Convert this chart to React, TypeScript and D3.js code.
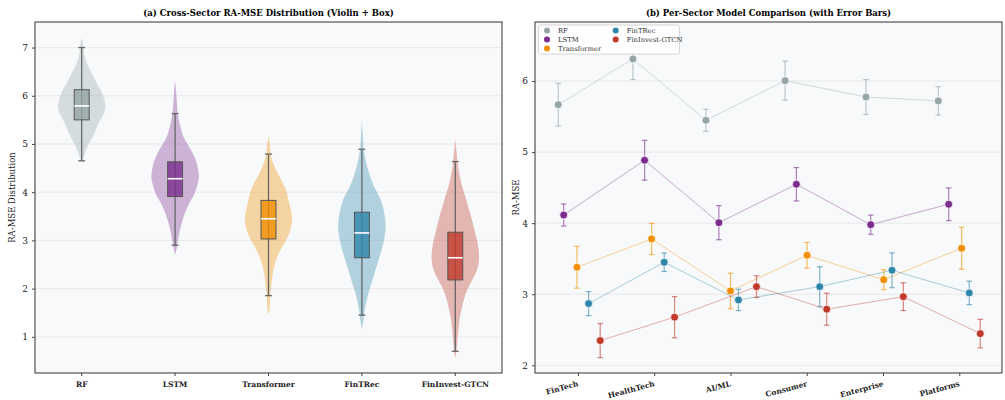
import React, { useRef, useEffect } from 'react';
import * as d3 from 'd3';

// models and colours
const models = ['RF', 'LSTM', 'Transformer', 'FinTRec', 'FinInvest-GTCN'];
const modelColors = ['#95A5A6', '#7B2D8E', '#F18F01', '#2E86AB', '#C0392B'];

// panel (a) box stats
const whiskerLow = [4.65, 2.9, 1.855, 1.45, 0.7];
const q1 = [5.5, 3.91, 3.03, 2.64, 2.18];
const medians = [5.79, 4.28, 3.45, 3.155, 2.64];
const q3 = [6.125, 4.63, 3.83, 3.585, 3.17];
const whiskerHigh = [7.0, 5.63, 4.79, 4.89, 4.635];

// violin outlines: [value, relative half width]
const rfViolin = [
  [4.62, 0], [4.75, 0.1], [4.9, 0.2], [5.05, 0.36], [5.25, 0.56], [5.4, 0.68], [5.6, 0.9],
  [5.75, 1.0], [5.9, 0.96], [6.08, 0.84], [6.25, 0.64], [6.43, 0.46], [6.6, 0.28], [6.78, 0.14],
  [6.95, 0.08], [7.1, 0.05], [7.2, 0],
];
const lstmViolin = [
  [2.7, 0], [2.87, 0.08], [3.08, 0.15], [3.25, 0.22], [3.43, 0.32], [3.6, 0.44], [3.77, 0.6],
  [3.95, 0.8], [4.12, 0.92], [4.3, 1.0], [4.46, 0.97], [4.62, 0.9], [4.81, 0.74], [5.0, 0.52],
  [5.15, 0.35], [5.33, 0.24], [5.5, 0.16], [5.7, 0.1], [5.9, 0.07], [6.1, 0.04], [6.31, 0],
];
const transformerViolin = [
  [1.45, 0], [1.6, 0.05], [1.8, 0.07], [2.0, 0.1], [2.2, 0.15], [2.42, 0.22], [2.6, 0.33],
  [2.77, 0.47], [2.95, 0.68], [3.11, 0.85], [3.3, 0.96], [3.45, 1.0], [3.6, 0.96], [3.8, 0.86],
  [4.0, 0.77], [4.18, 0.62], [4.36, 0.42], [4.55, 0.24], [4.72, 0.12], [4.9, 0.07], [5.05, 0.04], [5.17, 0],
];
const fintrecViolin = [
  [1.17, 0], [1.3, 0.05], [1.45, 0.09], [1.62, 0.14], [1.8, 0.22], [1.98, 0.32], [2.15, 0.43],
  [2.32, 0.53], [2.49, 0.64], [2.67, 0.75], [2.84, 0.85], [3.05, 0.95], [3.25, 1.0], [3.4, 0.99],
  [3.55, 0.95], [3.72, 0.87], [3.88, 0.76], [4.05, 0.58], [4.22, 0.42], [4.4, 0.3], [4.57, 0.2],
  [4.75, 0.12], [4.92, 0.07], [5.15, 0.04], [5.48, 0],
];
const fininvestViolin = [
  [0.56, 0], [0.7, 0.05], [0.93, 0.09], [1.1, 0.12], [1.28, 0.16], [1.45, 0.21], [1.63, 0.29],
  [1.8, 0.38], [1.97, 0.5], [2.15, 0.68], [2.32, 0.86], [2.47, 0.96], [2.62, 1.0], [2.8, 0.98],
  [2.97, 0.93], [3.15, 0.84], [3.35, 0.74], [3.56, 0.63], [3.74, 0.52], [3.91, 0.42], [4.08, 0.31],
  [4.26, 0.22], [4.43, 0.15], [4.6, 0.1], [4.8, 0.06], [5.1, 0],
];
const violins = [rfViolin, lstmViolin, transformerViolin, fintrecViolin, fininvestViolin];

// panel (b) per-sector means, error half widths, x jitter
const sectors = ['FinTech', 'HealthTech', 'AI/ML', 'Consumer', 'Enterprise', 'Platforms'];
const rfMeans = [5.667, 6.31, 5.447, 6.005, 5.775, 5.72];
const lstmMeans = [4.115, 4.885, 4.007, 4.547, 3.979, 4.266];
const transformerMeans = [3.38, 3.778, 3.046, 3.548, 3.205, 3.647];
const fintrecMeans = [2.868, 3.45, 2.92, 3.107, 3.337, 3.018];
const fininvestMeans = [2.348, 2.677, 3.107, 2.789, 2.966, 2.446];
const rfErr = [0.3, 0.29, 0.155, 0.275, 0.245, 0.2];
const lstmErr = [0.155, 0.28, 0.24, 0.235, 0.135, 0.23];
const transformerErr = [0.295, 0.22, 0.25, 0.18, 0.14, 0.295];
const fintrecErr = [0.17, 0.13, 0.15, 0.28, 0.245, 0.165];
const fininvestErr = [0.24, 0.29, 0.153, 0.225, 0.195, 0.2];
const rfOffset = [-0.258, -0.279, -0.322, -0.284, -0.223, -0.275];
const lstmOffset = [-0.187, -0.126, -0.152, -0.136, -0.161, -0.139];
const transformerOffset = [-0.013, -0.034, 0, 0.004, 0.009, 0.031];
const fintrecOffset = [0.14, 0.131, 0.105, 0.17, 0.118, 0.131];
const fininvestOffset = [0.292, 0.267, 0.341, 0.262, 0.266, 0.275];
const sectorMeans = [rfMeans, lstmMeans, transformerMeans, fintrecMeans, fininvestMeans];
const sectorErrs = [rfErr, lstmErr, transformerErr, fintrecErr, fininvestErr];
const sectorOffsets = [rfOffset, lstmOffset, transformerOffset, fintrecOffset, fininvestOffset];

const leftTicks = [1, 2, 3, 4, 5, 6, 7];
const rightTicks = [2, 3, 4, 5, 6];

const FONT = '"DejaVu Serif", serif';

const App = () => {
  const ref = useRef(null);

  useEffect(() => {
    const svg = d3.select(ref.current);
    svg.selectAll('*').remove();

    const top = 22;
    const bottom = 373;

    // ---------- panel (a) ----------
    const a = { left: 35, right: 502 };
    const xA = d3.scaleBand().domain(models).range([a.left, a.right]).padding(0);
    const yA = d3.scaleLinear().domain([0.25, 7.53]).range([bottom, top]);
    const cx = (m) => xA(m) + xA.bandwidth() / 2;

    const gA = svg.append('g');
    gA.append('rect')
      .attr('x', a.left).attr('y', top)
      .attr('width', a.right - a.left).attr('height', bottom - top)
      .attr('fill', '#f8f9fa');

    gA.selectAll('.grid')
      .data(leftTicks)
      .enter()
      .append('line')
      .attr('x1', a.left).attr('x2', a.right)
      .attr('y1', (d) => yA(d)).attr('y2', (d) => yA(d))
      .attr('stroke', '#e6e7e9').attr('stroke-width', 0.9);

    const half = xA.bandwidth() * 0.254;
    models.forEach((m, i) => {
      const area = d3.area()
        .y((d) => yA(d[0]))
        .x0((d) => cx(m) - d[1] * half)
        .x1((d) => cx(m) + d[1] * half)
        .curve(d3.curveCatmullRom);
      gA.append('path')
        .attr('d', area(violins[i]))
        .attr('fill', modelColors[i])
        .attr('fill-opacity', 0.35);
    });

    const boxHalf = xA.bandwidth() * 0.08;
    const capHalf = 3.4;
    models.forEach((m, i) => {
      const x = cx(m);
      const g = gA.append('g');
      g.append('line')
        .attr('x1', x).attr('x2', x)
        .attr('y1', yA(whiskerLow[i])).attr('y2', yA(whiskerHigh[i]))
        .attr('stroke', '#666').attr('stroke-width', 1.3);
      [whiskerLow[i], whiskerHigh[i]].forEach((v) => {
        g.append('line')
          .attr('x1', x - capHalf).attr('x2', x + capHalf)
          .attr('y1', yA(v)).attr('y2', yA(v))
          .attr('stroke', '#666').attr('stroke-width', 1.3);
      });
      g.append('rect')
        .attr('x', x - boxHalf).attr('y', yA(q3[i]))
        .attr('width', boxHalf * 2).attr('height', yA(q1[i]) - yA(q3[i]))
        .attr('fill', modelColors[i]).attr('fill-opacity', 0.8)
        .attr('stroke', '#555').attr('stroke-width', 1);
      g.append('line')
        .attr('x1', x - boxHalf).attr('x2', x + boxHalf)
        .attr('y1', yA(medians[i])).attr('y2', yA(medians[i]))
        .attr('stroke', '#fff').attr('stroke-width', 1.6);
    });

    gA.append('rect')
      .attr('x', a.left).attr('y', top)
      .attr('width', a.right - a.left).attr('height', bottom - top)
      .attr('fill', 'none').attr('stroke', '#444').attr('stroke-width', 1.1);

    const axisA = gA.append('g').attr('transform', `translate(${a.left},0)`)
      .call(d3.axisLeft(yA).tickValues(leftTicks).tickFormat(d3.format('d')).tickSize(3).tickPadding(4));
    const axisAx = gA.append('g').attr('transform', `translate(0,${bottom})`)
      .call(d3.axisBottom(xA).tickSize(3).tickPadding(6));
    [axisA, axisAx].forEach((ax) => {
      ax.select('.domain').remove();
      ax.selectAll('line').attr('stroke', '#444');
      ax.selectAll('text').attr('font-family', FONT).attr('fill', '#222');
    });
    axisA.selectAll('text').attr('font-size', 9);
    axisAx.selectAll('text').attr('font-size', 7.5).attr('font-weight', 'bold');

    gA.append('text')
      .attr('transform', `translate(15,${(top + bottom) / 2}) rotate(-90)`)
      .attr('text-anchor', 'middle')
      .attr('font-family', FONT).attr('font-size', 8.5).attr('fill', '#222')
      .text('RA-MSE Distribution');
    gA.append('text')
      .attr('x', (a.left + a.right) / 2).attr('y', 16)
      .attr('text-anchor', 'middle')
      .attr('font-family', FONT).attr('font-size', 8.5).attr('font-weight', 'bold')
      .text('(a) Cross-Sector RA-MSE Distribution (Violin + Box)');

    // ---------- panel (b) ----------
    const b = { left: 535, right: 1002 };
    const xB = d3.scaleLinear().domain([-0.563, 5.56]).range([b.left, b.right]);
    const yB = d3.scaleLinear().domain([1.892, 6.83]).range([bottom, top]);

    const gB = svg.append('g');
    gB.append('rect')
      .attr('x', b.left).attr('y', top)
      .attr('width', b.right - b.left).attr('height', bottom - top)
      .attr('fill', '#f8f9fa');
    gB.selectAll('.grid')
      .data(rightTicks)
      .enter()
      .append('line')
      .attr('x1', b.left).attr('x2', b.right)
      .attr('y1', (d) => yB(d)).attr('y2', (d) => yB(d))
      .attr('stroke', '#e6e7e9').attr('stroke-width', 0.9);

    models.forEach((m, i) => {
      const pts = sectors.map((s, j) => ({
        x: xB(j + sectorOffsets[i][j]),
        v: sectorMeans[i][j],
        e: sectorErrs[i][j],
      }));
      const line = d3.line().x((d) => d.x).y((d) => yB(d.v));
      gB.append('path')
        .attr('d', line(pts))
        .attr('fill', 'none')
        .attr('stroke', modelColors[i]).attr('stroke-opacity', 0.4)
        .attr('stroke-width', 1);
      const eg = gB.append('g')
        .attr('stroke', modelColors[i]).attr('stroke-opacity', 0.6)
        .attr('stroke-width', 1.2);
      pts.forEach((p) => {
        eg.append('line')
          .attr('x1', p.x).attr('x2', p.x)
          .attr('y1', yB(p.v - p.e)).attr('y2', yB(p.v + p.e));
        [p.v - p.e, p.v + p.e].forEach((v) => {
          eg.append('line')
            .attr('x1', p.x - 2.8).attr('x2', p.x + 2.8)
            .attr('y1', yB(v)).attr('y2', yB(v));
        });
      });
      gB.append('g').selectAll('circle')
        .data(pts)
        .enter()
        .append('circle')
        .attr('cx', (d) => d.x).attr('cy', (d) => yB(d.v))
        .attr('r', 4)
        .attr('fill', modelColors[i])
        .attr('stroke', '#fff').attr('stroke-width', 0.8);
    });

    gB.append('rect')
      .attr('x', b.left).attr('y', top)
      .attr('width', b.right - b.left).attr('height', bottom - top)
      .attr('fill', 'none').attr('stroke', '#444').attr('stroke-width', 1.1);

    const axisB = gB.append('g').attr('transform', `translate(${b.left},0)`)
      .call(d3.axisLeft(yB).tickValues(rightTicks).tickFormat(d3.format('d')).tickSize(3).tickPadding(4));
    const axisBx = gB.append('g').attr('transform', `translate(0,${bottom})`)
      .call(d3.axisBottom(xB).tickValues(d3.range(sectors.length))
        .tickFormat((d) => sectors[d]).tickSize(3).tickPadding(5));
    [axisB, axisBx].forEach((ax) => {
      ax.select('.domain').remove();
      ax.selectAll('line').attr('stroke', '#444');
      ax.selectAll('text').attr('font-family', FONT).attr('fill', '#222');
    });
    axisB.selectAll('text').attr('font-size', 9);
    axisBx.selectAll('text')
      .attr('font-size', 7.5).attr('font-weight', 'bold')
      .attr('text-anchor', 'end')
      .attr('dy', '0.7em')
      .attr('transform', 'translate(-2,4) rotate(-15)')
      .attr('y', 4);

    gB.append('text')
      .attr('transform', `translate(519,${(top + bottom) / 2}) rotate(-90)`)
      .attr('text-anchor', 'middle')
      .attr('font-family', FONT).attr('font-size', 8.5).attr('fill', '#222')
      .text('RA-MSE');
    gB.append('text')
      .attr('x', (b.left + b.right) / 2).attr('y', 16)
      .attr('text-anchor', 'middle')
      .attr('font-family', FONT).attr('font-size', 8.5).attr('font-weight', 'bold')
      .text('(b) Per-Sector Model Comparison (with Error Bars)');

    // legend, two columns filled column-wise
    const lg = gB.append('g');
    lg.append('rect')
      .attr('x', 538.5).attr('y', 25)
      .attr('width', 141).attr('height', 29)
      .attr('rx', 2)
      .attr('fill', '#fff').attr('fill-opacity', 0.85)
      .attr('stroke', '#ccc').attr('stroke-width', 0.8);
    models.forEach((m, i) => {
      const col = Math.floor(i / 3);
      const row = i % 3;
      const lx = 547 + col * 68.7;
      const ly = 30.5 + row * 9;
      lg.append('circle')
        .attr('cx', lx).attr('cy', ly).attr('r', 3)
        .attr('fill', modelColors[i]);
      lg.append('text')
        .attr('x', lx + 11).attr('y', ly)
        .attr('dy', '0.35em')
        .attr('font-family', FONT).attr('font-size', 6.8).attr('fill', '#333')
        .text(m);
    });
  }, []);

  return (
    <svg
      ref={ref}
      width={1005}
      height={400}
      style={{ position: 'absolute', left: 0, top: 0, background: '#fff' }}
    />
  );
};

export default App;
